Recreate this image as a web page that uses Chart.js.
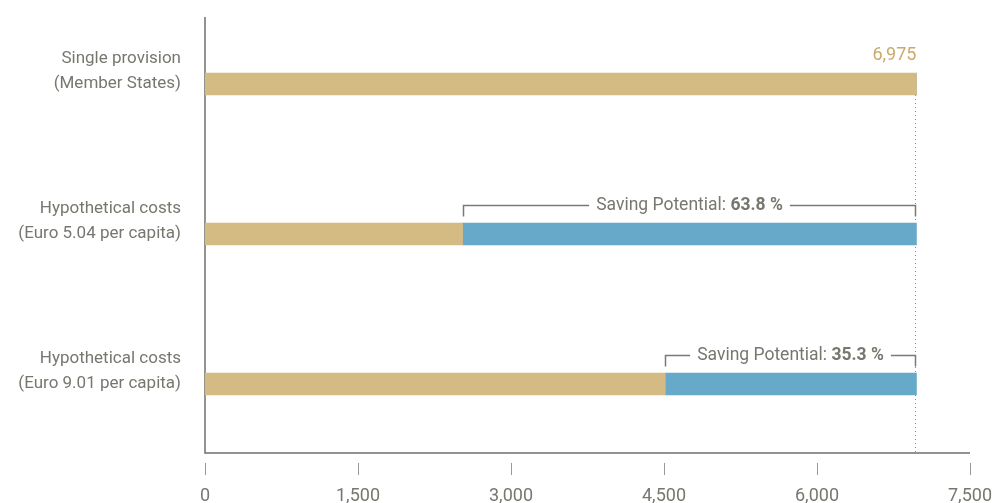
<!DOCTYPE html>
<html>
<head>
<meta charset="utf-8">
<script src="https://cdn.jsdelivr.net/npm/chart.js@4/dist/chart.umd.min.js"></script>
<style>
  html, body { margin: 0; padding: 0; background: #fff; overflow: hidden; }
  #wrap { width: 992px; height: 503px; position: relative; }
</style>
</head>
<body>
<div id="wrap"><canvas id="costChart"></canvas></div>
<script>
// data
const categories = [
  ['Single provision', '(Member States)'],
  ['Hypothetical costs', '(Euro 5.04 per capita)'],
  ['Hypothetical costs', '(Euro 9.01 per capita)']
];
const singleTotal = 6975;
const costValues = [6975, 2525, 4513];
const savingValues = [0, 4450, 2462];
const savingPct = [null, 63.8, 35.3];
const xTicks = [0, 1500, 3000, 4500, 6000, 7500];

const FONT = "Roboto, 'DejaVu Sans Condensed', sans-serif";
const TEXT_GRAY = '#77776f';
const AXIS_GRAY = '#6f6f69';
const TAN = '#d4bb84';
const BLUE = '#67a9c8';

// axes, tick marks, dotted line and saving brackets
const decorPlugin = {
  id: 'decor',
  beforeDatasetsDraw(chart) {
    const { ctx, chartArea, scales } = chart;
    const x = scales.x;
    const axisY = chartArea.bottom - 6;
    ctx.save();
    // dotted reference line at the single provision total
    const bar0 = chart.getDatasetMeta(0).data[0];
    const xd = Math.round(x.getPixelForValue(singleTotal)) - 0.5;
    ctx.strokeStyle = '#888';
    ctx.lineWidth = 1;
    ctx.setLineDash([1, 3]);
    ctx.beginPath();
    ctx.moveTo(xd, bar0.y + bar0.height / 2);
    ctx.lineTo(xd, axisY);
    ctx.stroke();
    ctx.setLineDash([]);
    // axis lines
    ctx.strokeStyle = AXIS_GRAY;
    ctx.lineWidth = 1.5;
    ctx.beginPath();
    ctx.moveTo(chartArea.left, 17);
    ctx.lineTo(chartArea.left, axisY);
    ctx.lineTo(x.getPixelForValue(7500), axisY);
    ctx.stroke();
    // tick marks below the axis
    ctx.strokeStyle = '#9a9a94';
    ctx.lineWidth = 1;
    xTicks.forEach(v => {
      const px = Math.round(x.getPixelForValue(v)) + 0.5;
      ctx.beginPath();
      ctx.moveTo(px, axisY + 10);
      ctx.lineTo(px, axisY + 22);
      ctx.stroke();
    });
    ctx.restore();
  },
  afterDatasetsDraw(chart) {
    const { ctx, scales } = chart;
    const x = scales.x;
    const meta = chart.getDatasetMeta(0);
    ctx.save();
    // value label on the first bar
    const b0 = meta.data[0];
    ctx.font = '18px ' + FONT;
    ctx.fillStyle = '#c9aa6c';
    ctx.textAlign = 'right';
    ctx.textBaseline = 'middle';
    ctx.fillText(singleTotal.toLocaleString('en-US'), x.getPixelForValue(singleTotal), b0.y - 29);

    // saving potential brackets
    savingPct.forEach((pct, i) => {
      if (pct == null) return;
      const bar = meta.data[i];
      const top = bar.y - bar.height / 2;
      const x1 = Math.round(x.getPixelForValue(costValues[i])) + 0.5;
      const x2 = Math.round(x.getPixelForValue(costValues[i] + savingValues[i])) - 0.5;
      const ly = Math.round(top - 18) + 0.5;
      const part1 = 'Saving Potential: ';
      const part2 = pct.toFixed(1) + ' %';
      ctx.font = '17.5px ' + FONT;
      const w1 = ctx.measureText(part1).width;
      ctx.font = 'bold 17.5px ' + FONT;
      const w2 = ctx.measureText(part2).width;
      const tw = w1 + w2;
      const tx = (x1 + x2) / 2 - tw / 2;
      const gap = 7;
      ctx.strokeStyle = '#7a7a74';
      ctx.lineWidth = 1.5;
      ctx.beginPath();
      ctx.moveTo(x1, ly + 11);
      ctx.lineTo(x1, ly);
      ctx.lineTo(tx - gap, ly);
      ctx.moveTo(tx + tw + gap, ly);
      ctx.lineTo(x2, ly);
      ctx.lineTo(x2, ly + 11);
      ctx.stroke();
      ctx.fillStyle = TEXT_GRAY;
      ctx.textAlign = 'left';
      ctx.textBaseline = 'middle';
      ctx.font = '17.5px ' + FONT;
      ctx.fillText(part1, tx, ly);
      ctx.font = 'bold 17.5px ' + FONT;
      ctx.fillText(part2, tx + w1, ly);
    });
    ctx.restore();
  }
};

new Chart(document.getElementById('costChart'), {
  type: 'bar',
  data: {
    labels: categories,
    datasets: [{
      label: 'Costs',
      data: costValues,
      backgroundColor: TAN,
      barThickness: 22
    }, {
      label: 'Saving',
      data: savingValues,
      backgroundColor: BLUE,
      barThickness: 22
    }]
  },
  options: {
    indexAxis: 'y',
    responsive: true,
    maintainAspectRatio: false,
    animation: false,
    layout: { padding: { top: 9, right: 22, left: 0, bottom: 0 } },
    plugins: {
      legend: { display: false },
      tooltip: { enabled: false }
    },
    scales: {
      x: {
        stacked: true,
        min: 0,
        max: 7500,
        afterBuildTicks: scale => { scale.ticks = xTicks.map(v => ({ value: v })); },
        afterFit: scale => {
          scale.height = 44;
          scale.paddingLeft = 0;
          scale.paddingRight = 0;
        },
        border: { display: false },
        grid: { display: false },
        ticks: {
          padding: 19,
          maxRotation: 0,
          color: TEXT_GRAY,
          font: { family: FONT, size: 18 },
          callback: v => v.toLocaleString('en-US')
        }
      },
      y: {
        stacked: true,
        afterFit: scale => {
          scale.width = 205;
          scale.paddingTop = 0;
          scale.paddingBottom = 0;
        },
        border: { display: false },
        grid: { display: false },
        ticks: {
          padding: 16,
          labelOffset: -13,
          color: TEXT_GRAY,
          font: { family: FONT, size: 17, lineHeight: 1.5 }
        }
      }
    }
  },
  plugins: [decorPlugin]
});
</script>
</body>
</html>
